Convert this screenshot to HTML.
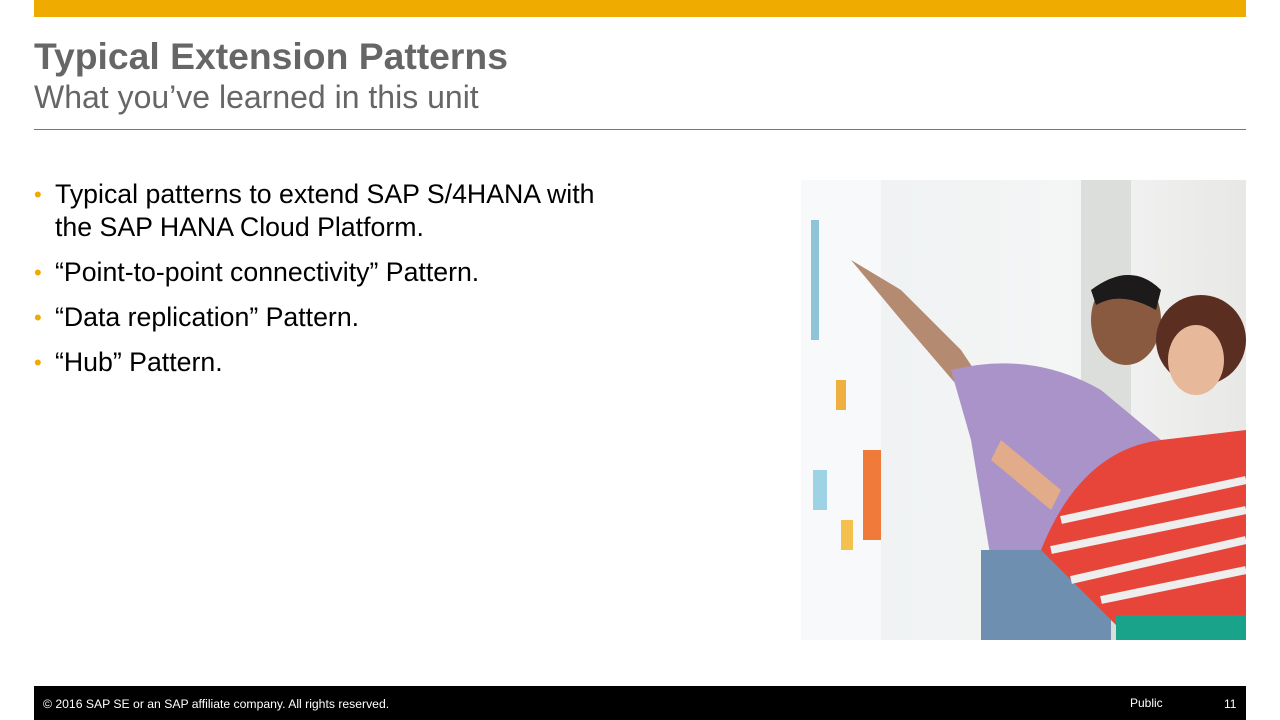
<!DOCTYPE html>
<html><head><meta charset="utf-8"><style>
body{margin:0;width:1280px;height:720px;background:#fff;position:relative;overflow:hidden;font-family:"Liberation Sans",sans-serif}
.a{position:absolute}
ul{margin:0;padding:0;list-style:none}
li{position:relative;padding-left:21px;font-size:26.7px;line-height:33px;color:#000;margin-bottom:12px}
li:before{content:"•";position:absolute;left:0;color:#f0ab00;font-size:22px}
</style></head><body>
<div class="a" style="left:34px;top:0;width:1212px;height:17px;background:#f0ab00"></div>
<div class="a" style="left:34px;top:35px;font-size:37.3px;font-weight:bold;color:#666">Typical Extension Patterns</div>
<div class="a" style="left:34px;top:79px;font-size:32px;color:#666">What you’ve learned in this unit</div>
<div class="a" style="left:34px;top:129px;width:1212px;height:1px;background:#777"></div>
<ul class="a" style="left:34px;top:178px;width:580px">
<li>Typical patterns to extend SAP S/4HANA with the SAP HANA Cloud Platform.</li>
<li>“Point-to-point connectivity” Pattern.</li>
<li>“Data replication” Pattern.</li>
<li>“Hub” Pattern.</li>
</ul>
<svg class="a" style="left:801px;top:180px" width="445" height="460" viewBox="0 0 445 460">
<defs><linearGradient id="bg" x1="0" x2="1"><stop offset="0" stop-color="#eef1f3"/><stop offset="0.6" stop-color="#f4f5f5"/><stop offset="1" stop-color="#e8e8e6"/></linearGradient></defs>
<rect width="445" height="460" fill="url(#bg)"/>
<rect x="0" y="0" width="80" height="460" fill="#f7f9fa"/>
<rect x="280" y="0" width="50" height="460" fill="#dcdedb"/>
<rect x="10" y="40" width="8" height="120" fill="#8fc3d8"/>
<rect x="35" y="200" width="10" height="30" fill="#f0b040"/>
<rect x="62" y="270" width="18" height="90" fill="#f07a3a"/>
<rect x="12" y="290" width="14" height="40" fill="#9dd3e4"/>
<rect x="40" y="340" width="12" height="30" fill="#f4c050"/>
<path d="M50 80 L100 110 L160 170 L180 200 L160 210 L100 140 Z" fill="#b48b70"/>
<path d="M150 190 Q230 170 300 210 L360 260 L370 390 L190 380 L170 260 Z" fill="#a993c9"/>
<rect x="180" y="370" width="130" height="90" fill="#6f8fb0"/>
<ellipse cx="325" cy="140" rx="35" ry="45" fill="#8a5a40"/>
<path d="M290 110 Q330 80 360 110 L355 130 Q320 110 295 125 Z" fill="#1c1a1a"/>
<ellipse cx="400" cy="160" rx="45" ry="45" fill="#5a2e20"/>
<ellipse cx="395" cy="180" rx="28" ry="35" fill="#e7b89a"/>
<path d="M240 370 Q280 270 360 260 L445 250 L445 440 L320 450 Z" fill="#e8453a"/>
<path d="M260 340 L445 300 M250 370 L445 330 M270 400 L445 360 M300 420 L445 390" stroke="#eee" stroke-width="8"/>
<rect x="315" y="435" width="130" height="25" fill="#18a38a"/>
<path d="M200 260 L260 310 L250 330 L190 280 Z" fill="#e2ab8a"/>
</svg>
<div class="a" style="left:34px;top:686px;width:1212px;height:34px;background:#000"></div>
<div class="a" style="left:43px;top:697px;font-size:12.2px;color:#fff">© 2016 SAP SE or an SAP affiliate company. All rights reserved.</div>
<div class="a" style="left:1130px;top:696px;font-size:12px;color:#fff">Public</div>
<div class="a" style="left:1224px;top:697px;font-size:12px;color:#fff">11</div>
</body></html>
